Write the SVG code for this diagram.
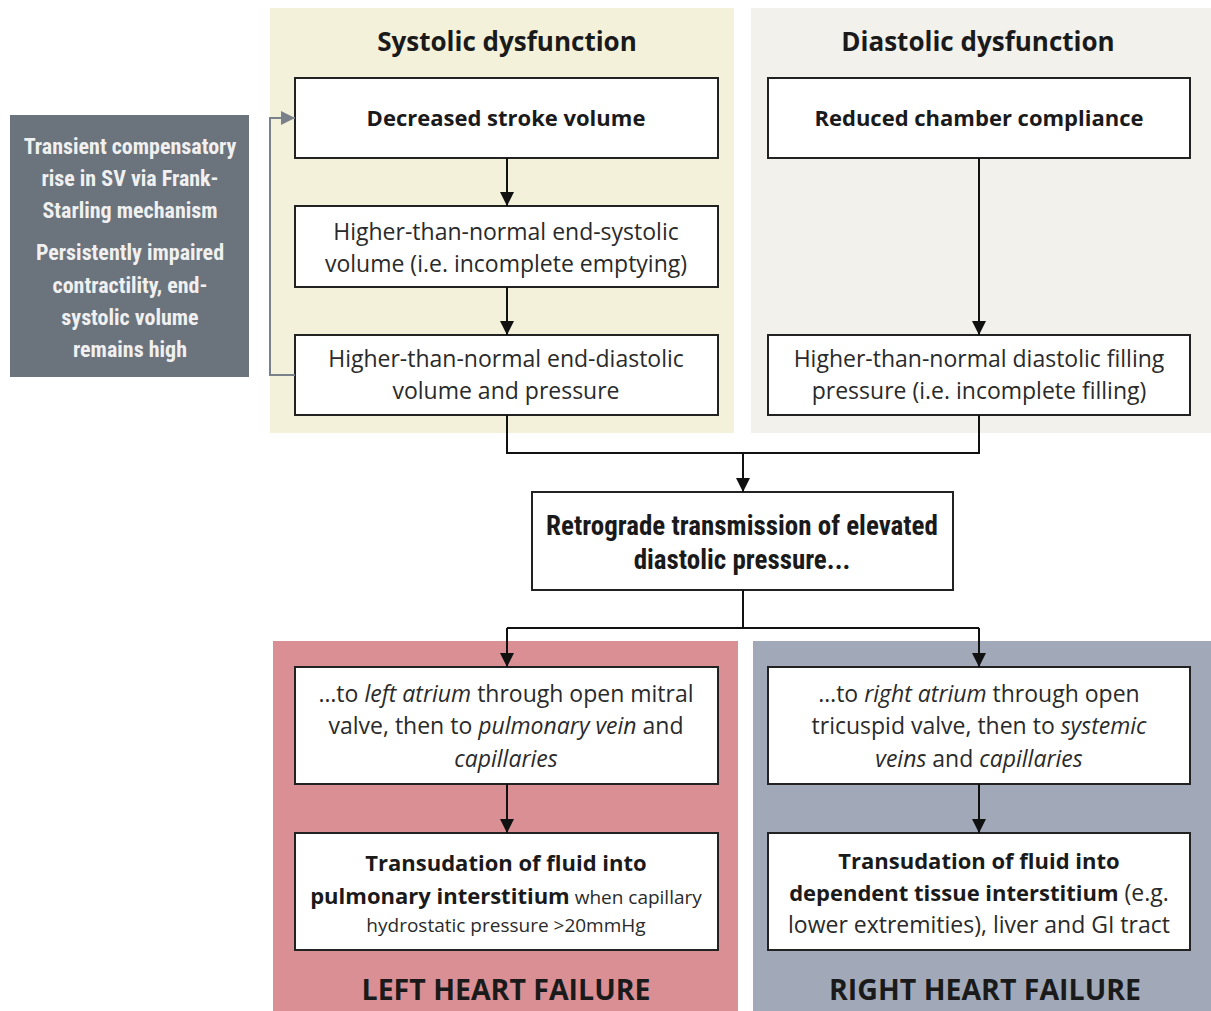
<svg xmlns="http://www.w3.org/2000/svg" width="1211" height="1011" viewBox="0 0 1211 1011">
<defs>
<marker id="ah" viewBox="0 0 10 10" refX="10" refY="5" markerWidth="14" markerHeight="14" markerUnits="userSpaceOnUse" orient="auto"><path d="M0,0 L10,5 L0,10 z" fill="#111"/></marker>
<marker id="ahg" viewBox="0 0 10 10" refX="10" refY="5" markerWidth="14" markerHeight="14" markerUnits="userSpaceOnUse" orient="auto"><path d="M0,0 L10,5 L0,10 z" fill="#7a818a"/></marker>
<style>
.box{fill:#fff;stroke:#222;stroke-width:2}
.t{font-family:"Open Sans","Noto Sans","Liberation Sans",sans-serif;font-size:23px;fill:#2a2a2a;text-anchor:middle}
.b{font-weight:bold;fill:#1a1a1a;font-size:22px}
.c{font-family:"Liberation Sans Narrow","Roboto Condensed","Liberation Sans",sans-serif;font-weight:bold;font-size:22px;text-anchor:middle}
.m{font-size:27px}
.h{font-family:"Open Sans","Noto Sans","Liberation Sans",sans-serif;font-weight:bold;font-size:26px;fill:#1a1a1a;text-anchor:middle}
.hf{font-size:28.5px}
.s{font-size:19px}
.ln{fill:none;stroke:#111;stroke-width:2}
</style>
</defs>
<rect width="1211" height="1011" fill="#fff"/>
<g id="panels">
<rect x="270" y="8" width="464" height="425" fill="#f3f1da"/>
<rect x="751" y="8" width="460" height="425" fill="#f2f1ec"/>
<rect x="273" y="641" width="465" height="370" fill="#d98f93"/>
<rect x="753" y="641" width="458" height="370" fill="#a1a9b8"/>
<text class="h" x="507" y="51">Systolic dysfunction</text>
<text class="h" x="978" y="51">Diastolic dysfunction</text>
<text class="h hf" x="506" y="1000">LEFT HEART FAILURE</text>
<text class="h hf" x="985" y="1000">RIGHT HEART FAILURE</text>
</g>
<g id="comp">
<rect x="10" y="115" width="239" height="262" fill="#6b737d"/>
<text class="c" fill="#f0f0f0" x="130" y="154">Transient compensatory</text>
<text class="c" fill="#f0f0f0" x="130" y="186">rise in SV via Frank-</text>
<text class="c" fill="#f0f0f0" x="130" y="218">Starling mechanism</text>
<text class="c" fill="#f0f0f0" x="130" y="260">Persistently impaired</text>
<text class="c" fill="#f0f0f0" x="130" y="293">contractility, end-</text>
<text class="c" fill="#f0f0f0" x="130" y="325">systolic volume</text>
<text class="c" fill="#f0f0f0" x="130" y="357">remains high</text>
</g>
<g id="s1"><rect class="box" x="295" y="78" width="423" height="80"/>
<text class="t b" x="506" y="126">Decreased stroke volume</text></g>
<g id="s2"><rect class="box" x="295" y="206" width="423" height="81"/>
<text class="t" x="506" y="240">Higher-than-normal end-systolic</text>
<text class="t" x="506" y="272">volume (i.e. incomplete emptying)</text></g>
<g id="s3"><rect class="box" x="295" y="335" width="423" height="80"/>
<text class="t" x="506" y="367">Higher-than-normal end-diastolic</text>
<text class="t" x="506" y="399">volume and pressure</text></g>
<g id="d1"><rect class="box" x="768" y="78" width="422" height="80"/>
<text class="t b" x="979" y="126">Reduced chamber compliance</text></g>
<g id="d2"><rect class="box" x="768" y="335" width="422" height="80"/>
<text class="t" x="979" y="367">Higher-than-normal diastolic filling</text>
<text class="t" x="979" y="399">pressure (i.e. incomplete filling)</text></g>
<g id="r"><rect class="box" x="532" y="492" width="421" height="98"/>
<text class="c m" fill="#1a1a1a" x="742" y="535">Retrograde transmission of elevated</text>
<text class="c m" fill="#1a1a1a" x="742" y="569">diastolic pressure...</text></g>
<g id="l1"><rect class="box" x="295" y="667" width="423" height="117"/>
<text class="t" x="506" y="702">…to <tspan font-style="italic">left atrium</tspan> through open mitral</text>
<text class="t" x="506" y="734">valve, then to <tspan font-style="italic">pulmonary vein</tspan> and</text>
<text class="t" x="506" y="767"><tspan font-style="italic">capillaries</tspan></text></g>
<g id="l2"><rect class="box" x="295" y="833" width="423" height="117"/>
<text class="t b" x="506" y="871">Transudation of fluid into</text>
<text class="t" x="506" y="904"><tspan class="b">pulmonary interstitium</tspan><tspan class="s"> when capillary</tspan></text>
<text class="t s" x="506" y="932">hydrostatic pressure &gt;20mmHg</text></g>
<g id="rr1"><rect class="box" x="768" y="667" width="422" height="117"/>
<text class="t" x="979" y="702">…to <tspan font-style="italic">right atrium</tspan> through open</text>
<text class="t" x="979" y="734">tricuspid valve, then to <tspan font-style="italic">systemic</tspan></text>
<text class="t" x="979" y="767"><tspan font-style="italic">veins</tspan> and <tspan font-style="italic">capillaries</tspan></text></g>
<g id="rr2"><rect class="box" x="768" y="833" width="422" height="117"/>
<text class="t b" x="979" y="869">Transudation of fluid into</text>
<text class="t" x="979" y="901"><tspan class="b">dependent tissue interstitium</tspan> (e.g.</text>
<text class="t" x="979" y="933">lower extremities), liver and GI tract</text></g>
<g id="connectors">
<line class="ln" x1="507" y1="158" x2="507" y2="206" marker-end="url(#ah)"/>
<line class="ln" x1="507" y1="287" x2="507" y2="335" marker-end="url(#ah)"/>
<line class="ln" x1="979" y1="158" x2="979" y2="335" marker-end="url(#ah)"/>
<polyline points="295,375 270,375 270,118 295,118" fill="none" stroke="#7a818a" stroke-width="2" marker-end="url(#ahg)"/>
<polyline class="ln" points="507,415 507,453 979,453 979,415"/>
<line class="ln" x1="743" y1="453" x2="743" y2="492" marker-end="url(#ah)"/>
<line class="ln" x1="743" y1="590" x2="743" y2="628"/>
<polyline class="ln" points="507,628 979,628"/>
<line class="ln" x1="507" y1="628" x2="507" y2="667" marker-end="url(#ah)"/>
<line class="ln" x1="979" y1="628" x2="979" y2="667" marker-end="url(#ah)"/>
<line class="ln" x1="507" y1="784" x2="507" y2="833" marker-end="url(#ah)"/>
<line class="ln" x1="979" y1="784" x2="979" y2="833" marker-end="url(#ah)"/>
</g>
</svg>
